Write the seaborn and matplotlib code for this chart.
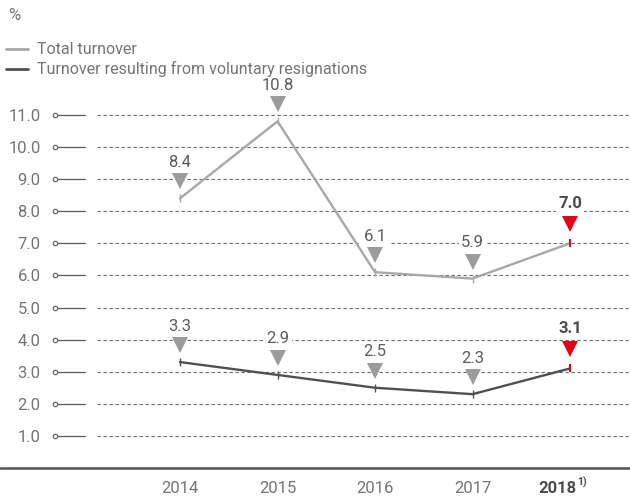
import matplotlib
matplotlib.use("Agg")
import matplotlib.pyplot as plt
import seaborn as sns
import pandas as pd
from matplotlib.lines import Line2D
import matplotlib.transforms as mtransforms

years = ["2014", "2015", "2016", "2017", "2018"]
total_turnover = [8.4, 10.8, 6.1, 5.9, 7.0]
voluntary_turnover = [3.3, 2.9, 2.5, 2.3, 3.1]
y_ticks = [1.0, 2.0, 3.0, 4.0, 5.0, 6.0, 7.0, 8.0, 9.0, 10.0, 11.0]
series_names = ["Total turnover", "Turnover resulting from voluntary resignations"]
footnote = "1)"

sns.set_theme(style="white")
plt.rcParams["font.family"] = ["Roboto", "DejaVu Sans"]

GRAY_TXT = "#747474"
DARK_TXT = "#4a4a4a"
C_TOTAL = "#a8a8a8"
C_VOL = "#505050"
C_TRI = "#9b9b9b"
RED = "#e2001a"

W, H = 630, 498
fig = plt.figure(figsize=(W / 100, H / 100), dpi=100)
ax_left, ax_right = 85, 630
ax_bottom_px, ax_top_px = 468, 95
ax = fig.add_axes([ax_left / W, (H - ax_bottom_px) / H, (ax_right - ax_left) / W,
                   (ax_bottom_px - ax_top_px) / H])
px_per_unit = 32.1
px_per_x = 97.5
ax.set_ylim(0, (ax_bottom_px - ax_top_px) / px_per_unit)
ax.set_xlim(-(180 - ax_left) / px_per_x, (ax_right - 180) / px_per_x)

df = pd.DataFrame({
    "x": list(range(len(years))) * 2,
    "value": total_turnover + voluntary_turnover,
    "series": [series_names[0]] * len(years) + [series_names[1]] * len(years),
})
sns.lineplot(data=df, x="x", y="value", hue="series",
             palette={series_names[0]: C_TOTAL, series_names[1]: C_VOL},
             linewidth=1.7, legend=False, ax=ax, zorder=3)
ax.set_xlabel("")
ax.set_ylabel("")

# grid lines (dashed), starting a little right of axes edge
blend = mtransforms.blended_transform_factory(ax.transAxes, ax.transData)
gx0 = (97 - ax_left) / (ax_right - ax_left)
cx = (55 - ax_left) / (ax_right - ax_left)
for yv in y_ticks:
    ax.plot([gx0, 1.0], [yv, yv], transform=blend, color="#6a6a6a", lw=0.8,
            ls=(0, (3.0, 2.4)), zorder=1)
    ax.plot([cx, 0], [yv, yv], transform=blend,
            color="#5a5a5a", lw=0.9, clip_on=False, zorder=2)
    ax.plot([cx], [yv], transform=blend, marker="o",
            ms=3.2, mfc="white", mec="#5a5a5a", mew=0.8, clip_on=False, zorder=3)

ax.set_yticks(y_ticks)
ax.set_yticklabels([f"{v:.1f}" for v in y_ticks])
ax.tick_params(axis="y", length=0, pad=32, labelsize=12, labelcolor=GRAY_TXT)

ax.set_xticks(range(len(years)))
ax.set_xticklabels(years[:-1] + [""])
ax.tick_params(axis="x", length=0, pad=9, labelsize=12, labelcolor=GRAY_TXT)
last_i = len(years) - 1
ax.annotate(years[-1], xy=(last_i, 0), xycoords="data", xytext=(-13, -12.5),
            textcoords="offset pixels", fontsize=12, fontweight="bold", color=DARK_TXT,
            ha="center", va="top", annotation_clip=False)
ax.annotate(footnote, xy=(last_i, 0), xycoords="data", xytext=(7, -9),
            textcoords="offset pixels", fontsize=7.5, fontweight="bold", color=DARK_TXT,
            ha="left", va="top", annotation_clip=False)

for s in ["left", "right", "top", "bottom"]:
    ax.spines[s].set_visible(False)
fig.add_artist(Line2D([0, 1], [(H - ax_bottom_px) / H] * 2, color="#555555", lw=1.8))

# markers and labels
for series, col in [(total_turnover, C_TOTAL), (voluntary_turnover, C_VOL)]:
    for i, v in enumerate(series):
        last = i == len(series) - 1
        ax.plot(i, v, marker="|", ms=6, mew=1.5 if last else 1.0,
                color=RED if last else col, zorder=4)
        ax.plot(i, v + (19 if last else 17) / px_per_unit, marker="v", ms=11, mew=0,
                color=RED if last else C_TRI, zorder=4)
        ax.annotate(f"{v:.1f}", xy=(i, v), xytext=(0, 40 if last else 36),
                    textcoords="offset pixels", ha="center", va="center",
                    fontsize=12, fontweight="bold" if last else "normal",
                    color=DARK_TXT if last else "#5c5c5c", zorder=5,
                    bbox=dict(boxstyle="square,pad=0.15", fc="white", ec="none"))

fig.text(8 / W, 1 - 15 / H, "%", fontsize=12, color=GRAY_TXT,
         ha="left", va="center")

handles = [Line2D([], [], color=C_TOTAL, lw=2), Line2D([], [], color=C_VOL, lw=2)]
fig.legend(handles, series_names, loc="upper left", bbox_to_anchor=(0.0, 1 - 36 / H),
           frameon=False, handlelength=1.35, handletextpad=0.55,
           labelspacing=0.25, borderaxespad=0, borderpad=0.4,
           labelcolor=GRAY_TXT, prop={"size": 11.5})

fig.savefig("out.png", dpi=100)
